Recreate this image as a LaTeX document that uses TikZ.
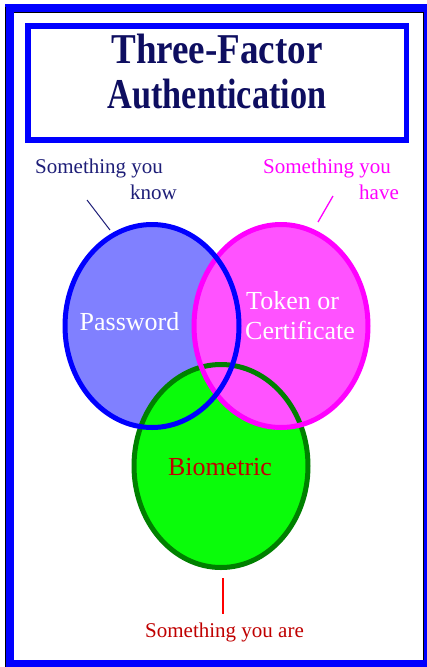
\documentclass[tikz,border=0pt]{standalone}
\usepackage{fontspec}
\usepackage{graphicx}
\setmainfont{Liberation Serif}
\definecolor{frameblue}{RGB}{0,0,255}
\definecolor{titlenavy}{RGB}{14,14,96}
\definecolor{knownavy}{RGB}{30,30,120}
\definecolor{pwfill}{RGB}{128,128,255}
\definecolor{magfill}{RGB}{255,82,255}
\definecolor{magline}{RGB}{255,0,255}
\definecolor{grfill}{RGB}{10,252,10}
\definecolor{grline}{RGB}{0,128,0}
\definecolor{biored}{RGB}{192,0,0}
\begin{document}
\begin{tikzpicture}[x=1pt,y=-1pt,
  txt/.style={inner sep=0pt,anchor=base},
  lbl/.style={txt,font=\fontsize{21}{25}\selectfont},
  inlbl/.style={txt,font=\fontsize{26}{30}\selectfont},
  ttl/.style={txt,font=\fontsize{36}{40}\selectfont\bfseries,text=titlenavy},
  ring/.style={line width=5pt}]
\useasboundingbox (0,0) rectangle (427,667);
\fill[white] (0,0) rectangle (427,667);
% outer frame
\fill[frameblue] (5,4) rectangle (427,667);
\fill[white] (14,12.7) rectangle (423.5,660);
\draw[black,line width=0.8pt] (5.4,7) -- (5.4,667);
\draw[black,line width=0.8pt] (14,12.7) -- (423.5,12.7);
\draw[black,line width=0.8pt] (423.5,12.7) -- (423.5,660);
% title box
\draw[frameblue,line width=5.8pt] (27.6,25.8) rectangle (406.4,140);
\node[ttl] (title1) at (217,63.3) {\scalebox{1.03}[1.18]{Three-Factor}};
\node[ttl] (title2) at (217,108.5) {\scalebox{0.95}[1.18]{Authentication}};
% ellipse centres
\coordinate (cB) at (152,326);
\coordinate (cM) at (281,326);
\coordinate (cG) at (221,466);
% fills
\fill[pwfill] (cB) ellipse [x radius=87, y radius=101.5];
\fill[grfill] (cG) ellipse [x radius=87, y radius=101.5];
\fill[magfill] (cM) ellipse [x radius=87, y radius=101.5];
% strokes
\draw[ring,grline] (cG) ellipse [x radius=87, y radius=101.5];
\draw[ring,magline] (cM) ellipse [x radius=87, y radius=101.5];
\draw[ring,frameblue] (cB) ellipse [x radius=87, y radius=101.5];
% inner labels
\node[inlbl,text=white] (pw) at (129.5,330) {Password};
\node[inlbl,text=white,anchor=base west] (tok1) at (246,309) {Token or};
\node[inlbl,text=white,anchor=base west] (tok2) at (245,339) {Certificate};
\node[inlbl,text=biored] (bio) at (220,475) {Biometric};
% outer labels
\node[lbl,text=knownavy,anchor=base west] (know1) at (35,173) {Something you};
\node[lbl,text=knownavy,anchor=base west] (know2) at (130,199) {know};
\node[lbl,text=magline,anchor=base west] (have1) at (263,173) {Something you};
\node[lbl,text=magline,anchor=base west] (have2) at (359,199) {have};
\node[lbl,text=biored] (are) at (224.5,637) {Something you are};
% pointers
\coordinate (k0) at (87,200);
\coordinate (k1) at (110,230);
\draw[knownavy,line width=1pt] (k0) -- (k1);
\coordinate (h0) at (333,196);
\coordinate (h1) at (318,222);
\draw[magline,line width=1.3pt] (h0) -- (h1);
\coordinate (a0) at (223,578);
\coordinate (a1) at (223,614);
\draw[red,line width=2pt] (a0) -- (a1);
\end{tikzpicture}
\end{document}
